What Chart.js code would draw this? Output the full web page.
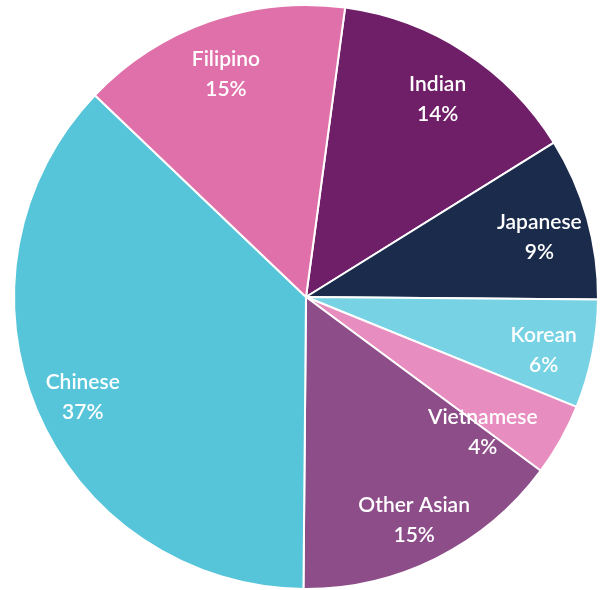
<!DOCTYPE html>
<html>
<head>
<meta charset="utf-8">
<script src="https://cdn.jsdelivr.net/npm/chart.js@4/dist/chart.umd.min.js"></script>
<style>
  html, body { margin: 0; padding: 0; background: #ffffff; }
  #wrap { width: 604px; height: 590px; }
</style>
</head>
<body>
<div id="wrap"><canvas id="c" width="604" height="590"></canvas></div>
<script>
const categories = ["Indian", "Japanese", "Korean", "Vietnamese", "Other Asian", "Chinese", "Filipino"];
const shares = [14, 9, 6, 4, 15, 37, 15];

const labelPlugin = {
  id: 'sliceLabels',
  afterDatasetsDraw(chart) {
    const ctx = chart.ctx;
    const meta = chart.getDatasetMeta(0);
    const data = chart.data.datasets[0].data;
    const total = data.reduce((a, b) => a + b, 0);
    ctx.save();
    ctx.fillStyle = '#ffffff';
    ctx.textAlign = 'center';
    ctx.textBaseline = 'middle';
    ctx.font = '600 21px Lato, "Open Sans", sans-serif';
    meta.data.forEach((arc, i) => {
      const p = arc.getProps(['x', 'y', 'startAngle', 'endAngle', 'outerRadius'], true);
      const share = data[i] / total;
      let mid = (p.startAngle + p.endAngle) / 2;
      let f = 0.83;
      if (share < 0.05) { f = 0.75; mid += 0.12; }
      const r = p.outerRadius * f;
      const cx = p.x + Math.cos(mid) * r;
      const cy = p.y + Math.sin(mid) * r + 6;
      const pct = Math.round(share * 100) + '%';
      ctx.fillText(chart.data.labels[i], cx, cy - 15);
      ctx.fillText(pct, cx, cy + 15);
    });
    ctx.restore();
  }
};

new Chart(document.getElementById('c'), {
  type: 'pie',
  data: {
    labels: categories,
    datasets: [{
      data: shares,
      backgroundColor: ['#6F1F68', '#1B2B4B', '#77D2E3', '#E88DBF', '#8D4D89', '#56C5DA', '#E070A9'],
      borderColor: '#ffffff',
      borderWidth: 2
    }]
  },
  options: {
    responsive: false,
    animation: false,
    rotation: 7.7,
    layout: { padding: { left: 13, right: 5, top: 4, bottom: 0 } },
    plugins: {
      legend: { display: false },
      tooltip: { enabled: false }
    }
  },
  plugins: [labelPlugin]
});
</script>
</body>
</html>
